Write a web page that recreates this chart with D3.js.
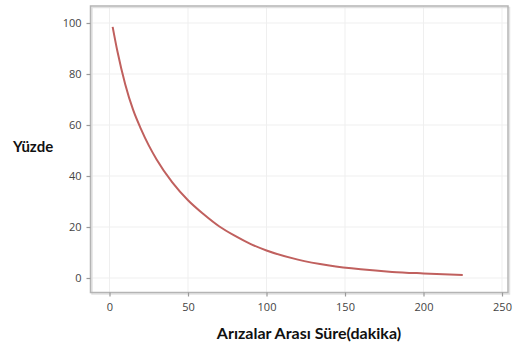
<!DOCTYPE html>
<html>
<head>
<meta charset="utf-8">
<script src="https://cdn.jsdelivr.net/npm/d3@7"></script>
<style>
  html, body { margin: 0; padding: 0; background: #fff; }
  svg { display: block; }
</style>
</head>
<body>
<svg id="chart"></svg>
<script>
// values
const sureDakika = [2, 5, 10, 15, 20, 25, 30, 40, 50, 60, 70, 80, 90, 100, 120, 140, 160, 180, 200, 225];
const yuzde      = [98.5, 89, 76, 66, 58.5, 52, 46.5, 37.5, 30.5, 25, 20.2, 16.5, 13.3, 10.8, 7.2, 4.9, 3.4, 2.4, 1.8, 1.2];
const xTicks = [0, 50, 100, 150, 200, 250];
const yTicks = [0, 20, 40, 60, 80, 100];

const W = 520, H = 347;
const svg = d3.select('#chart').attr('width', W).attr('height', H);

// plot frame
const frame = { left: 90.5, right: 508, top: 6, bottom: 292.5 };

const x = d3.scaleLinear().domain([0, 250]).range([109.5, 502]);
const y = d3.scaleLinear().domain([0, 100]).range([278, 23]);

// grid
svg.append('g').selectAll('line')
    .data(xTicks).join('line')
    .attr('x1', d => x(d)).attr('x2', d => x(d))
    .attr('y1', frame.top).attr('y2', frame.bottom)
    .attr('stroke', '#efefef').attr('stroke-width', 1);
svg.append('g').selectAll('line')
    .data(yTicks).join('line')
    .attr('x1', frame.left).attr('x2', frame.right)
    .attr('y1', d => y(d)).attr('y2', d => y(d))
    .attr('stroke', '#efefef').attr('stroke-width', 1);

// frame with soft shadow
svg.append('rect')
    .attr('x', frame.left + 1.5).attr('y', frame.top + 1.5)
    .attr('width', frame.right - frame.left).attr('height', frame.bottom - frame.top)
    .attr('fill', 'none').attr('stroke', '#e2e2e2').attr('stroke-width', 1.5);
svg.append('rect')
    .attr('x', frame.left).attr('y', frame.top)
    .attr('width', frame.right - frame.left).attr('height', frame.bottom - frame.top)
    .attr('fill', 'none').attr('stroke', '#b4b4b4').attr('stroke-width', 1.5);

// axes (outside frame)
const xAxis = d3.axisBottom(x).tickValues(xTicks).tickSize(4).tickPadding(7);
const yAxis = d3.axisLeft(y).tickValues(yTicks).tickSize(4).tickPadding(5);

const gx = svg.append('g').attr('transform', `translate(0,${frame.bottom})`).call(xAxis);
const gy = svg.append('g').attr('transform', `translate(${frame.left},0)`).call(yAxis);
[gx, gy].forEach(g => {
    g.select('.domain').remove();
    g.selectAll('.tick line').attr('stroke', '#9a9a9a').attr('stroke-width', 1.2);
    g.selectAll('.tick text')
        .attr('font-family', '"Open Sans", sans-serif')
        .attr('font-size', 11).attr('fill', '#444');
});

// curve
const pts = sureDakika.map((d, i) => [d, yuzde[i]]);
svg.append('path')
    .datum(pts)
    .attr('d', d3.line().x(d => x(d[0])).y(d => y(d[1])).curve(d3.curveMonotoneX))
    .attr('fill', 'none')
    .attr('stroke', '#c0605e')
    .attr('stroke-width', 2);

// axis titles
svg.append('text')
    .attr('x', 13).attr('y', 152)
    .attr('font-family', 'Lato, sans-serif').attr('font-weight', 700)
    .attr('font-size', 15).attr('fill', '#111')
    .text('Yüzde');
svg.append('text')
    .attr('x', 309).attr('y', 339)
    .attr('text-anchor', 'middle')
    .attr('font-family', 'Lato, sans-serif').attr('font-weight', 700)
    .attr('font-size', 16).attr('fill', '#111')
    .text('Arızalar Arası Süre(dakika)');
</script>
</body>
</html>
